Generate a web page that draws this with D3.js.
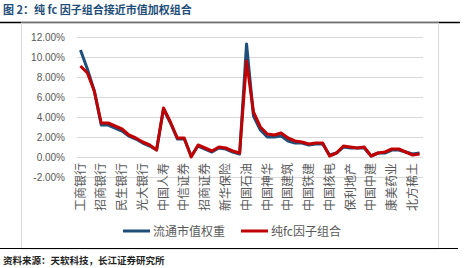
<!DOCTYPE html>
<html>
<head>
<meta charset="utf-8">
<script src="https://cdn.jsdelivr.net/npm/d3@7"></script>
<style>
  body { margin: 0; background: #fff; }
  svg { display: block; font-family: "Liberation Sans", "Noto Sans CJK SC", sans-serif; }
</style>
</head>
<body>
<div id="chart"></div>
<script>
const labels = ['工商银行','招商银行','民生银行','光大银行','中国人寿','中信证券','招商证券','新华保险',
  '中国石油','中国神华','中国建筑','中国铁建','中国核电','保利地产','中国中建','康美药业','北方稀土'];
const labelStep = 3;
const seriesNames = ['流通市值权重', '纯fc因子组合'];
const floatCap = [10.7, 8.8, 6.6, 3.2, 3.2, 2.9, 2.6, 2.1, 1.8, 1.4, 1.1, 0.7, 4.8, 3.4, 1.8, 1.8, 0.1, 1.1, 0.8, 0.5,
  0.9, 0.8, 0.5, 0.3, 11.3, 4.1, 2.7, 2.0, 2.0, 2.1, 1.6, 1.4, 1.4, 1.2, 1.3, 1.3, 0.2, 0.4, 1.0, 0.9,
  0.9, 0.9, 0.1, 0.4, 0.4, 0.7, 0.7, 0.5, 0.3, 0.4];
const pureFc = [9.1, 8.4, 6.6, 3.4, 3.4, 3.1, 2.8, 2.2, 1.9, 1.5, 1.2, 0.7, 4.9, 3.5, 1.9, 1.9, 0.0, 1.2, 0.9, 0.6,
  1.0, 0.9, 0.6, 0.4, 9.6, 4.5, 3.0, 2.3, 2.2, 2.4, 1.9, 1.6, 1.5, 1.3, 1.4, 1.4, 0.1, 0.4, 1.1, 1.0,
  0.9, 1.0, 0.1, 0.4, 0.5, 0.8, 0.8, 0.5, 0.2, 0.3];
const yTicks = [-2, 0, 2, 4, 6, 8, 10, 12];

const W = 464, H = 268;
const svg = d3.select('#chart').append('svg').attr('width', W).attr('height', H);

// title + rules
svg.append('text').attr('x', 3).attr('y', 14)
  .attr('font-family', '"Noto Sans CJK SC", sans-serif')
  .attr('font-size', 11).attr('font-weight', 'bold').attr('fill', '#1f4e79')
  .text('图 2：纯 fc 因子组合接近市值加权组合');
svg.append('line').attr('x1', 0).attr('x2', 460).attr('y1', 22.5).attr('y2', 22.5)
  .attr('stroke', '#000').attr('stroke-width', 1.5);
svg.append('rect').attr('x', 21.5).attr('y', 23).attr('width', 417).attr('height', 226)
  .attr('fill', 'none').attr('stroke', '#d9d9d9');
svg.append('line').attr('x1', 0).attr('x2', 458).attr('y1', 248.5).attr('y2', 248.5)
  .attr('stroke', '#000').attr('stroke-width', 1.2);
svg.append('text').attr('x', 3).attr('y', 264)
  .attr('font-family', '"Noto Sans CJK SC", sans-serif')
  .attr('font-size', 9.5).attr('font-weight', 'bold').attr('fill', '#222')
  .text('资料来源：天软科技，长江证券研究所');

const x = d3.scaleBand().domain(d3.range(floatCap.length)).range([77, 423]);
const y = d3.scaleLinear().domain([-2, 12]).range([177, 37]);

// grid + y labels
svg.append('g')
  .attr('transform', 'translate(77,0)')
  .call(d3.axisLeft(y).tickValues(yTicks).tickSize(-346).tickPadding(12)
    .tickFormat(d => d.toFixed(2) + '%'))
  .call(g => g.select('.domain').remove())
  .call(g => g.selectAll('line').attr('stroke', '#d9d9d9'))
  .call(g => g.selectAll('text').attr('fill', '#595959').attr('font-size', 10)
    .attr('font-family', '"Liberation Sans", sans-serif'));

// x labels at the zero line
svg.append('g')
  .attr('transform', `translate(0,${y(0)})`)
  .call(d3.axisBottom(x).tickValues(d3.range(0, floatCap.length, labelStep)).tickSize(0)
    .tickFormat(i => labels[i / labelStep]))
  .call(g => g.select('.domain').remove())
  .call(g => g.selectAll('text')
    .attr('font-family', '"Noto Sans CJK SC", sans-serif')
    .attr('font-size', 12).attr('fill', '#595959')
    .attr('transform', 'rotate(-90)')
    .attr('text-anchor', 'end').attr('x', -6).attr('y', 0).attr('dy', '0.35em'));

const line = d3.line().x((d, i) => x(i) + x.bandwidth() / 2).y(d => y(d));
const colors = ['#1f4e79', '#c00000'];
[floatCap, pureFc].forEach((s, k) => {
  svg.append('path').datum(s).attr('d', line).attr('fill', 'none')
    .attr('stroke', colors[k]).attr('stroke-width', 3).attr('stroke-linejoin', 'round');
});

// legend
const legendX = [123, 241];
seriesNames.forEach((name, k) => {
  const g = svg.append('g').attr('transform', `translate(${legendX[k]},231)`);
  g.append('line').attr('x1', 0).attr('x2', 27).attr('stroke', colors[k]).attr('stroke-width', 3);
  g.append('text').attr('x', 30).attr('y', 4.5)
    .attr('font-family', '"Noto Sans CJK SC", sans-serif')
    .attr('font-size', 12).attr('fill', '#595959').text(name);
});
</script>
</body>
</html>
